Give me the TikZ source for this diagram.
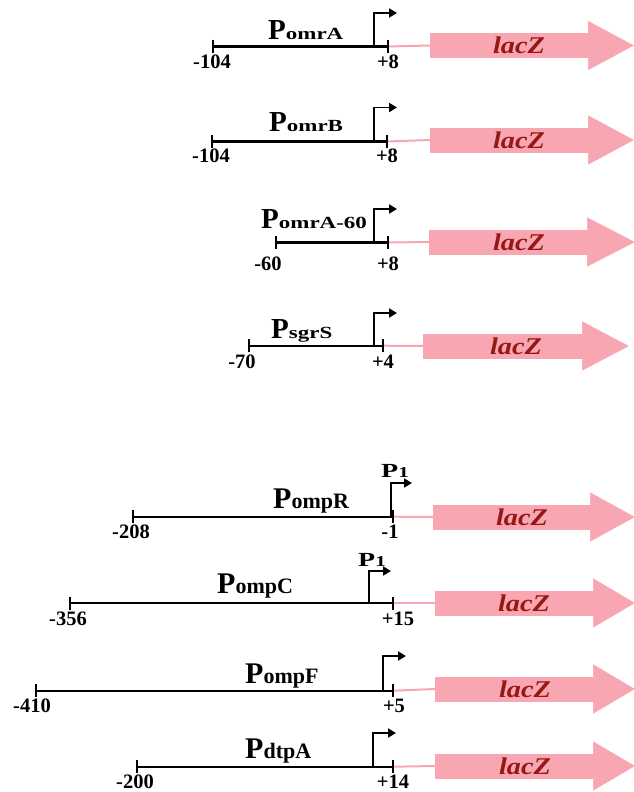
\documentclass[tikz,border=0pt]{standalone}
\usepackage{fontspec}
\setmainfont{Liberation Serif}
\usetikzlibrary{arrows.meta,positioning}
\definecolor{cLac}{RGB}{248,166,178}
\definecolor{cLacText}{RGB}{150,24,20}
\newcommand{\promtop}[1]{{\fontsize{29}{29}\selectfont P}\scalebox{1.35}[1]{\fontsize{17}{17}\selectfont #1}}
\newcommand{\prombottom}[1]{{\fontsize{30}{30}\selectfont P}{\fontsize{22}{22}\selectfont #1}}
\newcommand{\pone}{\scalebox{1.4}[1]{{\fontsize{20}{20}\selectfont P}{\fontsize{15}{15}\selectfont 1}}}

\begin{document}
\begin{tikzpicture}[x=1pt, y=-1pt,
  dna/.style={line width=2.2pt, draw=black},
  endtick/.style={line width=2pt, draw=black},
  tss/.style={line width=1.8pt, draw=black, -{Triangle[length=8pt,width=9pt]}},
  lacline/.style={line width=2pt, draw=cLac},
  lacbody/.style={rectangle, fill=cLac, draw=cLac, line width=0.4pt, minimum height=24pt, inner sep=0pt},
  lachead/.style={fill=cLac, draw=cLac, line width=0.4pt},
  laclabel/.style={font=\bfseries\itshape\fontsize{24}{24}\selectfont, text=cLacText, inner sep=0pt},
  coordlabel/.style={font=\bfseries\fontsize{20.5}{20.5}\selectfont, inner sep=0pt, anchor=base},
  prom/.style={font=\bfseries, inner sep=0pt, anchor=base west},
]
\useasboundingbox (0,0) rectangle (634,792);

\coordinate (l1) at (213,46.5);
\coordinate (r1) at (388,46.5);
\coordinate (s1) at (374,46.5);
\coordinate (e1) at (397,13);
\node[lacbody, minimum width=158pt, anchor=west] (zb1) at (430,45.5) {};
\fill[lachead] ([yshift=12pt]zb1.north east) -- ([xshift=45pt]zb1.east) -- ([yshift=-12pt]zb1.south east) -- cycle;
\node[laclabel] (z1) at (519,45.5) {\scalebox{1.18}[1]{lacZ}};
\draw[lacline] (r1) -- (zb1.west);
\draw[dna] (l1) -- (r1);
\draw[endtick] ([yshift=6.5pt]l1) -- ([yshift=-6.5pt]l1);
\draw[endtick] ([yshift=6.5pt]r1) -- ([yshift=-6.5pt]r1);
\draw[tss] (s1) |- (e1);
\node[prom] (p1) at (268,39.5) {\promtop{omrA}};
\node[coordlabel] (n1a) at (212,68) {-104};
\node[coordlabel] (n1b) at (388,68) {+8};

\coordinate (l2) at (212,141.5);
\coordinate (r2) at (387,141.5);
\coordinate (s2) at (374,141.5);
\coordinate (e2) at (397,107.5);
\node[lacbody, minimum width=158pt, anchor=west] (zb2) at (430,140) {};
\fill[lachead] ([yshift=12pt]zb2.north east) -- ([xshift=45pt]zb2.east) -- ([yshift=-12pt]zb2.south east) -- cycle;
\node[laclabel] (z2) at (519,140) {\scalebox{1.18}[1]{lacZ}};
\draw[lacline] (r2) -- (zb2.west);
\draw[dna] (l2) -- (r2);
\draw[endtick] ([yshift=6.5pt]l2) -- ([yshift=-6.5pt]l2);
\draw[endtick] ([yshift=6.5pt]r2) -- ([yshift=-6.5pt]r2);
\draw[tss] (s2) |- (e2);
\node[prom] (p2) at (269,131.7) {\promtop{omrB}};
\node[coordlabel] (n2a) at (211,162) {-104};
\node[coordlabel] (n2b) at (387,162) {+8};

\coordinate (l3) at (276,242.5);
\coordinate (r3) at (388,242.5);
\coordinate (s3) at (374,242.5);
\coordinate (e3) at (397,209);
\node[lacbody, minimum width=158pt, anchor=west] (zb3) at (429,242) {};
\fill[lachead] ([yshift=12pt]zb3.north east) -- ([xshift=47pt]zb3.east) -- ([yshift=-12pt]zb3.south east) -- cycle;
\node[laclabel] (z3) at (519,242) {\scalebox{1.18}[1]{lacZ}};
\draw[lacline] (r3) -- (zb3.west);
\draw[dna] (l3) -- (r3);
\draw[endtick] ([yshift=6.5pt]l3) -- ([yshift=-6.5pt]l3);
\draw[endtick] ([yshift=6.5pt]r3) -- ([yshift=-6.5pt]r3);
\draw[tss] (s3) |- (e3);
\node[prom] (p3) at (261,228) {\promtop{omrA-60}};
\node[coordlabel] (n3a) at (268,270) {-60};
\node[coordlabel] (n3b) at (388,270) {+8};

\coordinate (l4) at (249,345.7);
\coordinate (r4) at (383,345.7);
\coordinate (s4) at (374,345.7);
\coordinate (e4) at (397,313);
\node[lacbody, minimum width=159pt, anchor=west] (zb4) at (423,346) {};
\fill[lachead] ([yshift=12pt]zb4.north east) -- ([xshift=46pt]zb4.east) -- ([yshift=-12pt]zb4.south east) -- cycle;
\node[laclabel] (z4) at (516,346) {\scalebox{1.18}[1]{lacZ}};
\draw[lacline] (r4) -- (zb4.west);
\draw[dna] (l4) -- (r4);
\draw[endtick] ([yshift=6.5pt]l4) -- ([yshift=-6.5pt]l4);
\draw[endtick] ([yshift=6.5pt]r4) -- ([yshift=-6.5pt]r4);
\draw[tss] (s4) |- (e4);
\node[prom] (p4) at (271,338) {\promtop{sgrS}};
\node[coordlabel] (n4a) at (242,368) {-70};
\node[coordlabel] (n4b) at (383,368) {+4};

\coordinate (l5) at (133,516.7);
\coordinate (r5) at (393,516.7);
\coordinate (s5) at (391,516.7);
\coordinate (e5) at (412,483);
\node[lacbody, minimum width=157pt, anchor=west] (zb5) at (433,517) {};
\fill[lachead] ([yshift=12pt]zb5.north east) -- ([xshift=44pt]zb5.east) -- ([yshift=-12pt]zb5.south east) -- cycle;
\node[laclabel] (z5) at (522,517) {\scalebox{1.18}[1]{lacZ}};
\draw[lacline] (r5) -- (zb5.west);
\draw[dna] (l5) -- (r5);
\draw[endtick] ([yshift=6.5pt]l5) -- ([yshift=-6.5pt]l5);
\draw[endtick] ([yshift=6.5pt]r5) -- ([yshift=-6.5pt]r5);
\draw[tss] (s5) |- (e5);
\node[prom] (p5) at (273,508) {\prombottom{ompR}};
\node[prom] (q5) at (381,477) {\pone};
\node[coordlabel] (n5a) at (131,538) {-208};
\node[coordlabel] (n5b) at (390,538) {-1};

\coordinate (l6) at (70,603);
\coordinate (r6) at (393,603);
\coordinate (s6) at (369,603);
\coordinate (e6) at (391,571);
\node[lacbody, minimum width=158pt, anchor=west] (zb6) at (435,603) {};
\fill[lachead] ([yshift=12pt]zb6.north east) -- ([xshift=41pt]zb6.east) -- ([yshift=-12pt]zb6.south east) -- cycle;
\node[laclabel] (z6) at (524,603) {\scalebox{1.18}[1]{lacZ}};
\draw[lacline] (r6) -- (zb6.west);
\draw[dna] (l6) -- (r6);
\draw[endtick] ([yshift=6.5pt]l6) -- ([yshift=-6.5pt]l6);
\draw[endtick] ([yshift=6.5pt]r6) -- ([yshift=-6.5pt]r6);
\draw[tss] (s6) |- (e6);
\node[prom] (p6) at (217,593) {\prombottom{ompC}};
\node[prom] (q6) at (358,566) {\pone};
\node[coordlabel] (n6a) at (68,625) {-356};
\node[coordlabel] (n6b) at (398,625) {+15};

\coordinate (l7) at (36,690.7);
\coordinate (r7) at (393,690.7);
\coordinate (s7) at (383,690.7);
\coordinate (e7) at (406,656);
\node[lacbody, minimum width=158pt, anchor=west] (zb7) at (435,689) {};
\fill[lachead] ([yshift=12pt]zb7.north east) -- ([xshift=41pt]zb7.east) -- ([yshift=-12pt]zb7.south east) -- cycle;
\node[laclabel] (z7) at (525,689) {\scalebox{1.18}[1]{lacZ}};
\draw[lacline] (r7) -- (zb7.west);
\draw[dna] (l7) -- (r7);
\draw[endtick] ([yshift=6.5pt]l7) -- ([yshift=-6.5pt]l7);
\draw[endtick] ([yshift=6.5pt]r7) -- ([yshift=-6.5pt]r7);
\draw[tss] (s7) |- (e7);
\node[prom] (p7) at (245,683) {\prombottom{ompF}};
\node[coordlabel] (n7a) at (32,712) {-410};
\node[coordlabel] (n7b) at (394,712) {+5};

\coordinate (l8) at (137,766.7);
\coordinate (r8) at (393,766.7);
\coordinate (s8) at (373,766.7);
\coordinate (e8) at (396,733);
\node[lacbody, minimum width=158pt, anchor=west] (zb8) at (435,766) {};
\fill[lachead] ([yshift=12pt]zb8.north east) -- ([xshift=41pt]zb8.east) -- ([yshift=-12pt]zb8.south east) -- cycle;
\node[laclabel] (z8) at (525,766) {\scalebox{1.18}[1]{lacZ}};
\draw[lacline] (r8) -- (zb8.west);
\draw[dna] (l8) -- (r8);
\draw[endtick] ([yshift=6.5pt]l8) -- ([yshift=-6.5pt]l8);
\draw[endtick] ([yshift=6.5pt]r8) -- ([yshift=-6.5pt]r8);
\draw[tss] (s8) |- (e8);
\node[prom] (p8) at (245,758) {\prombottom{dtpA}};
\node[coordlabel] (n8a) at (135,788) {-200};
\node[coordlabel] (n8b) at (393,788) {+14};
\end{tikzpicture}
\end{document}
